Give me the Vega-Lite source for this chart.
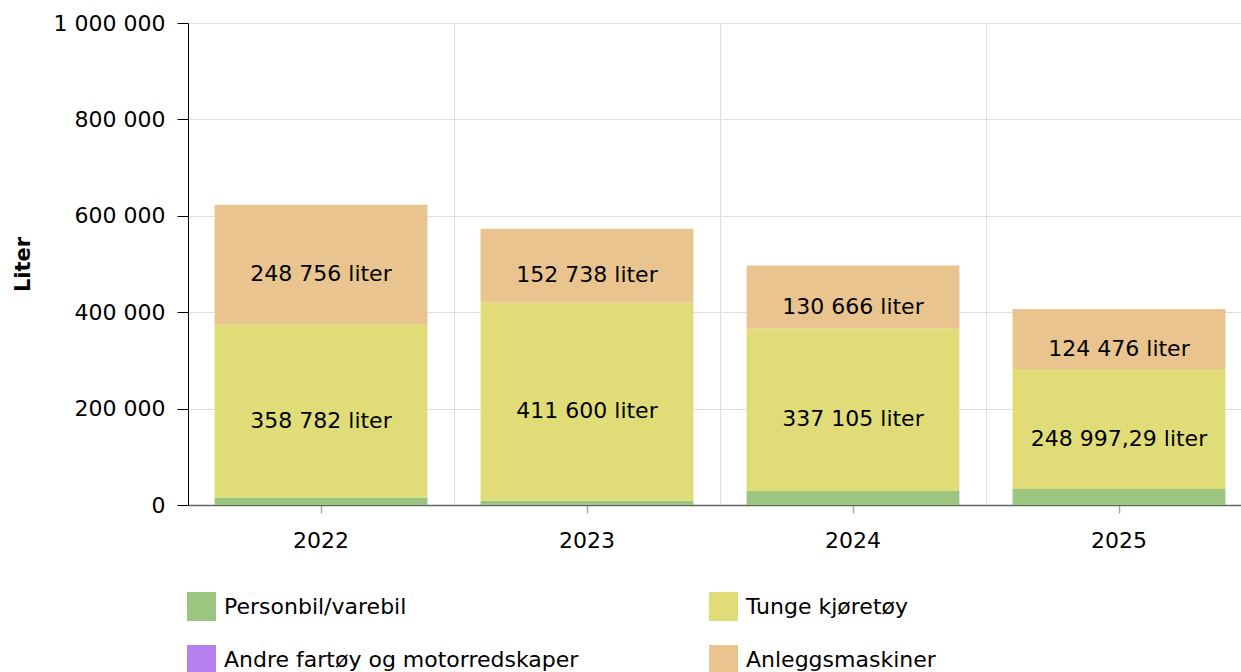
{
  "$schema": "https://vega.github.io/schema/vega-lite/v6.json",
  "width": 1064,
  "height": 482,
  "autosize": {"type": "none"},
  "padding": {"left": 188, "top": 23, "right": 0, "bottom": 167},
  "config": {
    "font": "DejaVu Sans",
    "view": {"stroke": null},
    "locale": {"number": {"decimal": ",", "thousands": " ", "grouping": [3], "currency": ["", ""]}}
  },
  "data": {
    "values": [
      {"year": "2022", "category": "Personbil/varebil", "rank": 1, "value": 15500, "label": ""},
      {"year": "2022", "category": "Tunge kjøretøy", "rank": 2, "value": 358782, "label": "358 782 liter"},
      {"year": "2022", "category": "Andre fartøy og motorredskaper", "rank": 3, "value": 0, "label": ""},
      {"year": "2022", "category": "Anleggsmaskiner", "rank": 4, "value": 248756, "label": "248 756 liter"},
      {"year": "2023", "category": "Personbil/varebil", "rank": 1, "value": 9000, "label": ""},
      {"year": "2023", "category": "Tunge kjøretøy", "rank": 2, "value": 411600, "label": "411 600 liter"},
      {"year": "2023", "category": "Andre fartøy og motorredskaper", "rank": 3, "value": 0, "label": ""},
      {"year": "2023", "category": "Anleggsmaskiner", "rank": 4, "value": 152738, "label": "152 738 liter"},
      {"year": "2024", "category": "Personbil/varebil", "rank": 1, "value": 29000, "label": ""},
      {"year": "2024", "category": "Tunge kjøretøy", "rank": 2, "value": 337105, "label": "337 105 liter"},
      {"year": "2024", "category": "Andre fartøy og motorredskaper", "rank": 3, "value": 0, "label": ""},
      {"year": "2024", "category": "Anleggsmaskiner", "rank": 4, "value": 130666, "label": "130 666 liter"},
      {"year": "2025", "category": "Personbil/varebil", "rank": 1, "value": 33000, "label": ""},
      {"year": "2025", "category": "Tunge kjøretøy", "rank": 2, "value": 248997.29, "label": "248 997,29 liter"},
      {"year": "2025", "category": "Andre fartøy og motorredskaper", "rank": 3, "value": 0, "label": ""},
      {"year": "2025", "category": "Anleggsmaskiner", "rank": 4, "value": 124476, "label": "124 476 liter"}
    ]
  },
  "resolve": {"axis": {"x": "independent"}},
  "layer": [
    {
      "mark": {"type": "bar"},
      "encoding": {
        "x": {
          "field": "year", "type": "nominal",
          "scale": {"paddingInner": 0.2, "paddingOuter": 0.1},
          "axis": {
            "orient": "bottom", "title": null, "labelAngle": 0, "grid": false,
            "labelFontSize": 22, "labelColor": "#000", "labelPadding": 17,
            "domainColor": "#666", "domainWidth": 1.5,
            "tickColor": "#aaa", "tickSize": 8, "tickWidth": 1.5
          }
        },
        "y": {
          "field": "value", "type": "quantitative", "stack": "zero",
          "scale": {"domain": [0, 1000000], "nice": false},
          "axis": {
            "title": "Liter", "titleFontSize": 21, "titleFontWeight": "bold", "titleColor": "#000", "titlePadding": 20,
            "values": [0, 200000, 400000, 600000, 800000, 1000000], "format": ",d",
            "labelFontSize": 22, "labelColor": "#000", "labelPadding": 12,
            "tickSize": 11, "tickColor": "#000", "domainColor": "#000",
            "grid": true, "gridColor": "#dddddd"
          }
        },
        "order": {"field": "rank", "type": "quantitative", "sort": "ascending"},
        "color": {
          "field": "category", "type": "nominal",
          "scale": {
            "domain": ["Personbil/varebil", "Tunge kjøretøy", "Andre fartøy og motorredskaper", "Anleggsmaskiner"],
            "range": ["#9cc67f", "#e0dc78", "#b87ff0", "#eac48f"]
          },
          "legend": {
            "title": null, "orient": "none", "legendX": -1, "legendY": 569,
            "direction": "horizontal",
            "columns": 2, "columnPadding": 130, "rowPadding": 24,
            "symbolType": "square", "symbolSize": 841, "symbolOpacity": 1,
            "symbolStrokeWidth": 0,
            "labelFontSize": 22, "labelColor": "#000", "labelLimit": 0, "labelOffset": 8
          }
        }
      }
    },
    {
      "mark": {"type": "text", "fontSize": 22, "color": "#000", "dy": 9.5},
      "encoding": {
        "x": {
          "field": "year", "type": "nominal",
          "axis": {
            "orient": "bottom", "title": null, "labels": false, "ticks": false, "domain": false,
            "bandPosition": 0, "tickOffset": -26.6, "grid": true, "gridColor": "#dddddd"
          }
        },
        "y": {"field": "value", "type": "quantitative", "stack": "zero", "bandPosition": 0.5},
        "order": {"field": "rank", "type": "quantitative", "sort": "ascending"},
        "detail": {"field": "category"},
        "text": {"field": "label"}
      }
    }
  ]
}
